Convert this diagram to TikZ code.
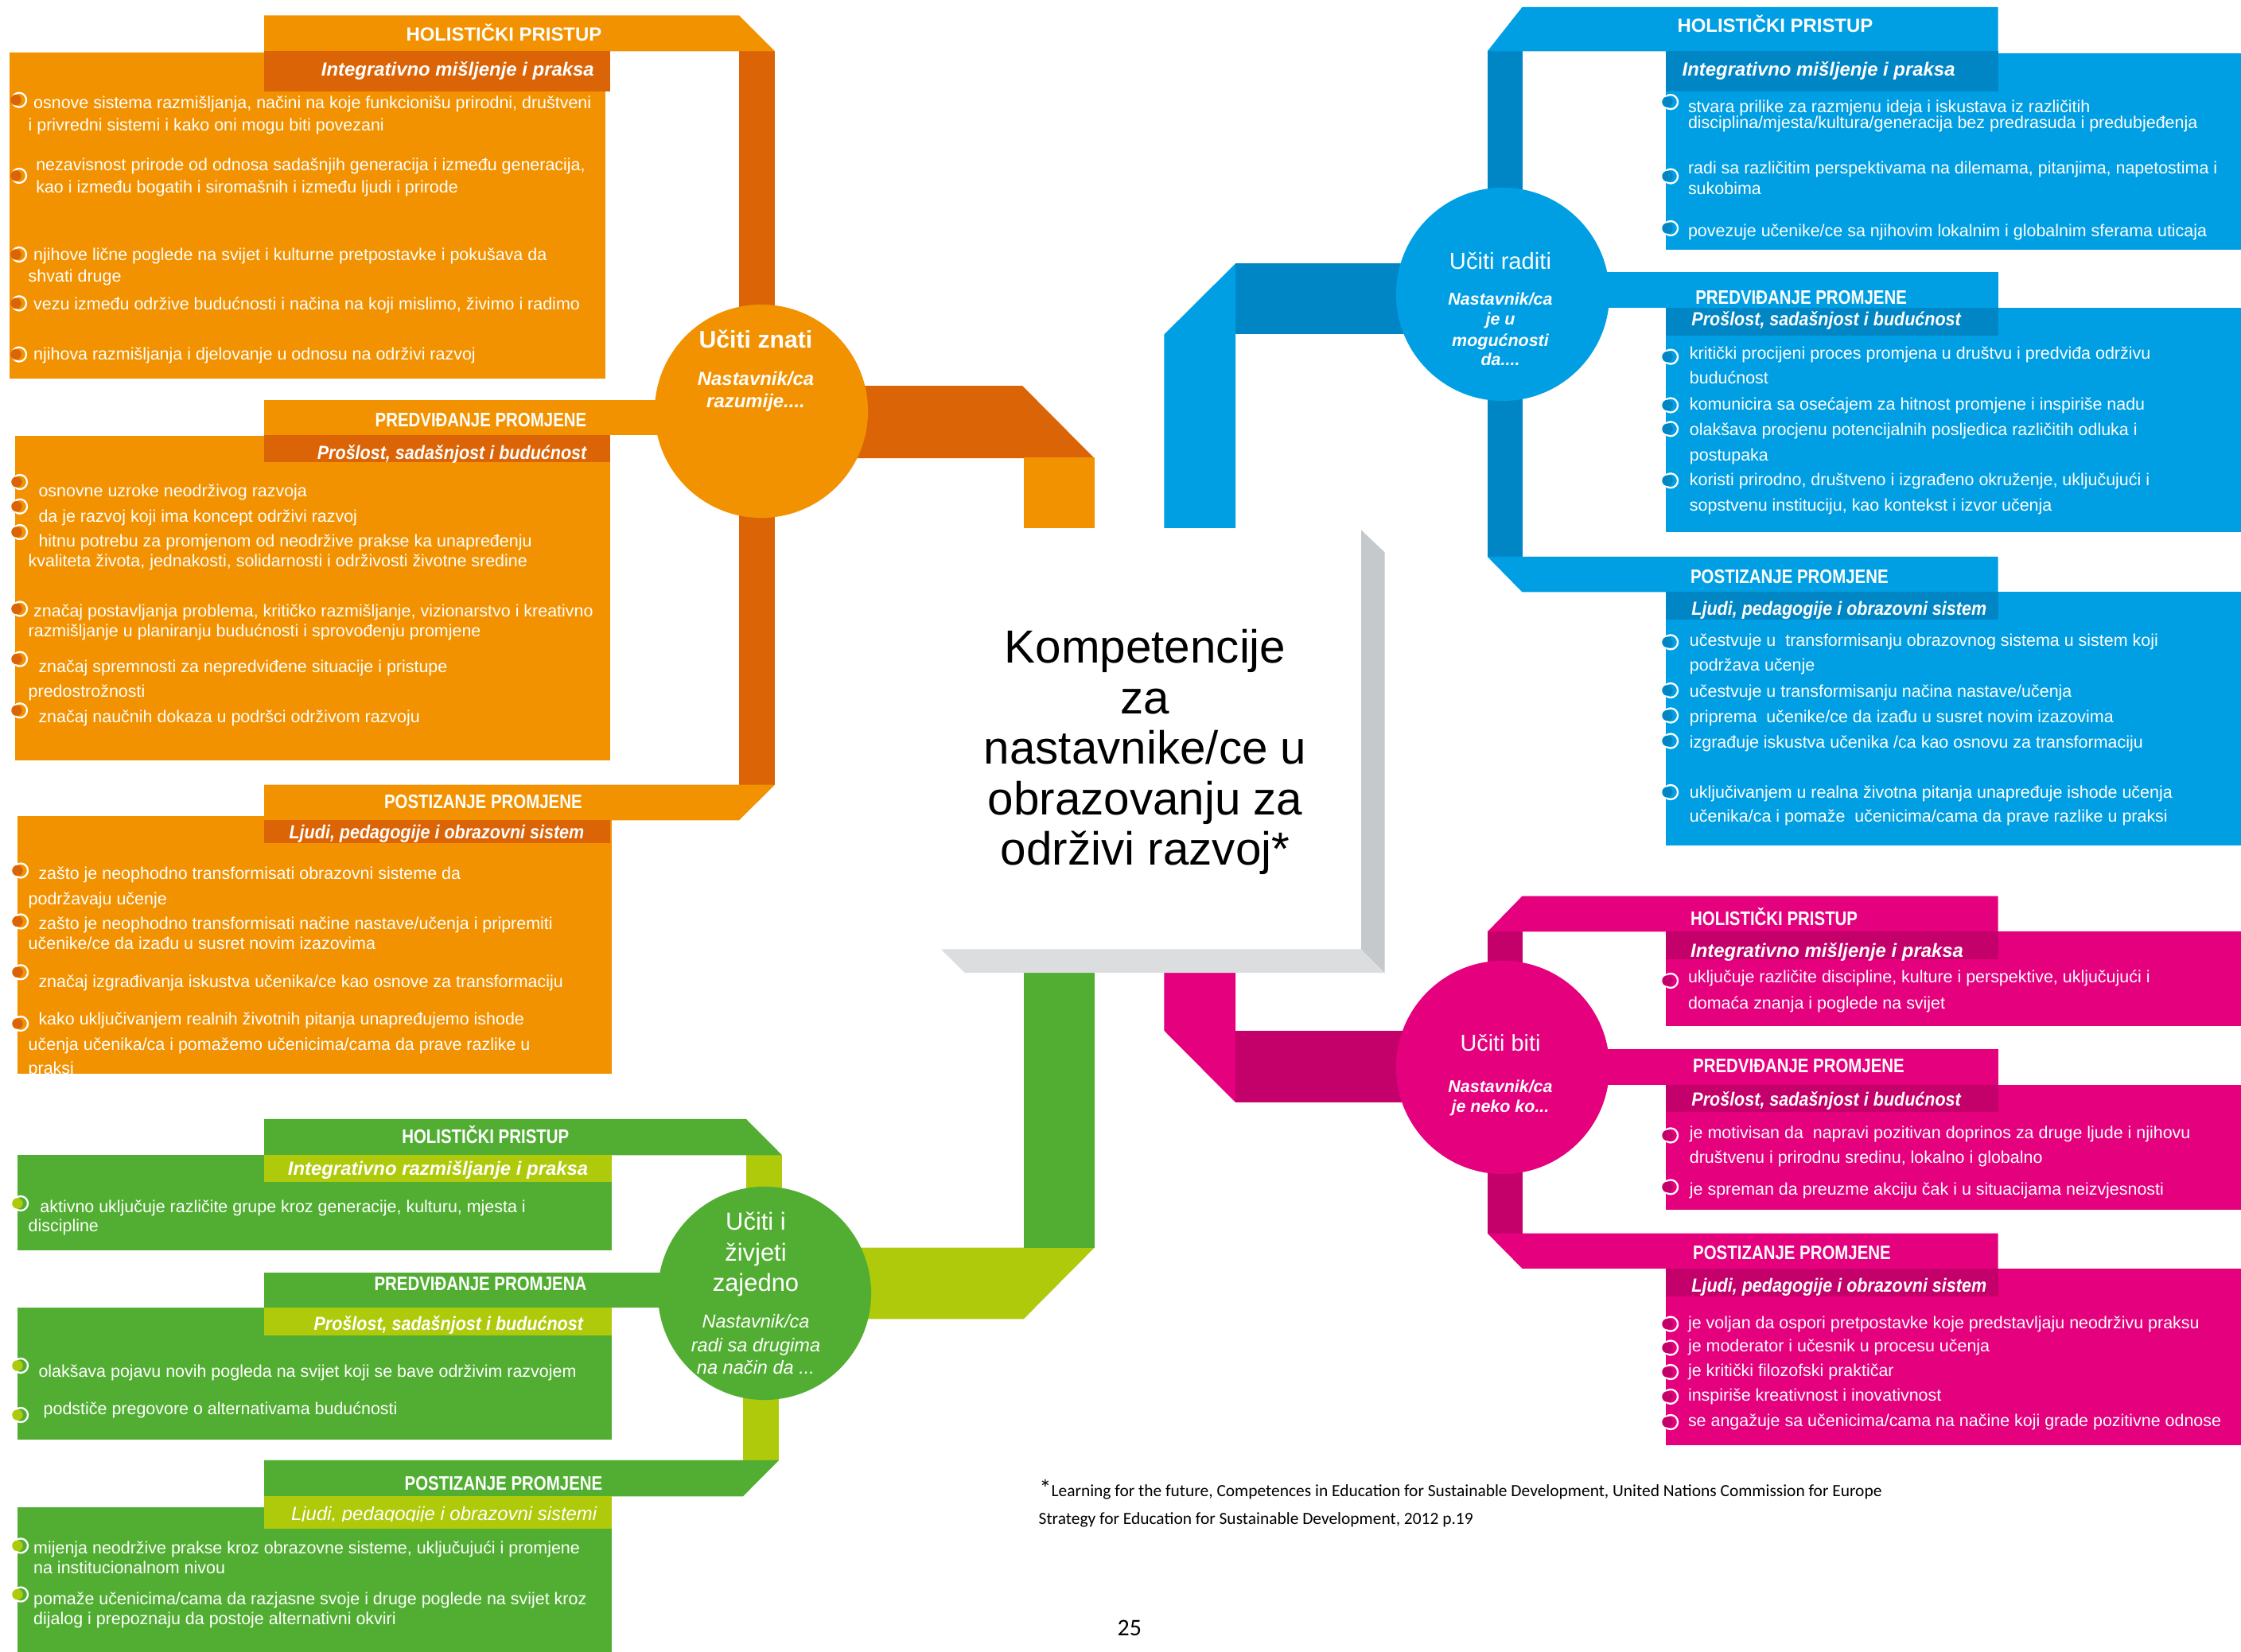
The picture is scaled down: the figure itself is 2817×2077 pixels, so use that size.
\documentclass[tikz,border=0pt]{standalone}
\usepackage{fontspec}
\setmainfont{Liberation Sans}
\newfontfamily\calib{Carlito}
\newfontfamily\nhead[FakeStretch=0.83]{Liberation Sans}
\newfontfamily\nsub[FakeStretch=0.9]{Liberation Sans}
\definecolor{cOr}{HTML}{F39200}
\definecolor{cOrD}{HTML}{DB6406}
\definecolor{cBl}{HTML}{009FE3}
\definecolor{cBlD}{HTML}{0086C5}
\definecolor{cPk}{HTML}{E5007D}
\definecolor{cPkD}{HTML}{C4006A}
\definecolor{cGr}{HTML}{52AE32}
\definecolor{cLm}{HTML}{AFCA0B}
\definecolor{cGyR}{HTML}{C6C9CC}
\definecolor{cGyB}{HTML}{DCDDDF}
\newcounter{nn}
\newcommand\myline[3]{\stepcounter{nn}\node[bt] (l\thenn) at (#1,#2) {#3};}
\newcommand\mybul[3]{\stepcounter{nn}\draw[white,line width=0.65pt] (#2+4,#3) circle (0.09cm);\node[dot,fill=#1] (b\thenn) at (#2,#3) {};}
\newcommand\hdr[4]{\stepcounter{nn}\node[#1] (h\thenn) at (#2,#3) {#4};}
\tikzset{
  bt/.style={font=\fontsize{6.1}{7}\selectfont,text=white,inner sep=0,anchor=base west},
  hb/.style={font=\bfseries\fontsize{6.8}{8}\selectfont,text=white,inner sep=0},
  hn/.style={font=\nhead\bfseries\fontsize{7}{8}\selectfont,text=white,inner sep=0},
  sb/.style={font=\bfseries\itshape\fontsize{6.8}{8}\selectfont,text=white,inner sep=0},
  sn/.style={font=\nsub\bfseries\itshape\fontsize{6.8}{8}\selectfont,text=white,inner sep=0},
  dot/.style={circle,draw=none,minimum size=0.135cm,inner sep=0},
  circ/.style={circle,minimum size=2.68cm,inner sep=0},
  ctit/.style={text=white,inner sep=0,anchor=base},
  title/.style={font=\fontsize{16.6}{18}\selectfont,text=black,inner sep=0,anchor=base},
}
\begin{document}
\begin{tikzpicture}[x=0.01cm,y=-0.01cm]
\useasboundingbox (0,0) rectangle (2817,2077);

% ---------------- ORANGE ----------------
\fill[cOrD] (929,64) rectangle (974,400);
\fill[cOrD] (929,630) rectangle (974,987);
\fill[cOrD] (1000,485.2) -- (1285.3,485.2) -- (1375.7,576.2) -- (1000,576.2) -- cycle;
\fill[cOr] (1286.6,575.5) rectangle (1375.7,664);
\fill[cOr] (12,66.5) rectangle (761,476);
\fill[cOr] (19,548) rectangle (767,956.4);
\fill[cOr] (21.7,1026) rectangle (768.5,1350);
\fill[cOr] (332,19.3) -- (929,19.3) -- (974,64.3) -- (332,64.3) -- cycle;
\fill[cOr] (332,502.6) rectangle (900,547.4);
\fill[cOr] (332,986.6) -- (974,986.6) -- (929,1031.4) -- (332,1031.4) -- cycle;
\fill[cOrD] (332,64.3) rectangle (767,115.4);
\fill[cOrD] (332,547.4) rectangle (767,581.3);
\fill[cOrD] (332,1031.4) rectangle (767,1060.3);
\node[circ,fill=cOr] (cz) at (957,517) {};

% ---------------- BLUE ----------------
\fill[cBlD] (1869.7,64) rectangle (1913.5,260);
\fill[cBlD] (1869.7,480) rectangle (1913.5,700.5);
\fill[cBlD] (1553.2,331.2) rectangle (1800,420.5);
\fill[cBl] (1463.4,664) -- (1463.4,420.5) -- (1553.2,331.2) -- (1553.2,664) -- cycle;
\fill[cBl] (2094,66.75) rectangle (2817,313.7);
\fill[cBl] (2094,387.2) rectangle (2817,668.8);
\fill[cBl] (2094,744.5) rectangle (2817,1063);
\fill[cBl] (1913.5,8.9) -- (2511.7,8.9) -- (2511.7,64.5) -- (1869.7,64.5) -- cycle;
\fill[cBl] (1950,341.8) rectangle (2511.7,387.2);
\fill[cBl] (1869.7,699.9) -- (2511.7,699.9) -- (2511.7,744.5) -- (1913.5,744.5) -- cycle;
\fill[cBlD] (2094,64.5) rectangle (2511.7,114.8);
\fill[cBlD] (2094,387.2) rectangle (2511.7,421.9);
\fill[cBlD] (2094,744.5) rectangle (2511.7,778.6);
\node[circ,fill=cBl] (cr) at (1889,370) {};

% ---------------- PINK ----------------
\fill[cPkD] (1869.7,1171) rectangle (1913.5,1240);
\fill[cPkD] (1869.7,1450) rectangle (1913.5,1551);
\fill[cPkD] (1553.2,1295.9) rectangle (1800,1386.2);
\fill[cPk] (1463.4,1223) -- (1553.2,1223) -- (1553.2,1386.2) -- (1463.4,1295.9) -- cycle;
\fill[cPk] (2094,1171.5) rectangle (2817,1290.5);
\fill[cPk] (2094,1364.4) rectangle (2817,1521.3);
\fill[cPk] (2094,1594.9) rectangle (2817,1817.3);
\fill[cPk] (1913.5,1126.6) -- (2511.7,1126.6) -- (2511.7,1171.5) -- (1869.7,1171.5) -- cycle;
\fill[cPk] (1950,1318.8) rectangle (2511.7,1364.4);
\fill[cPk] (1869.7,1550.6) -- (2511.7,1550.6) -- (2511.7,1594.9) -- (1913.5,1594.9) -- cycle;
\fill[cPkD] (2094,1171.5) rectangle (2511.7,1206.4);
\fill[cPkD] (2094,1364.4) rectangle (2511.7,1397.6);
\fill[cPkD] (2094,1594.9) rectangle (2511.7,1629.7);
\node[circ,fill=cPk] (cb) at (1889,1342) {};

% ---------------- GREEN ----------------
\fill[cLm] (938,1452) rectangle (983,1520);
\fill[cLm] (934,1740) rectangle (979,1836.5);
\fill[cLm] (1000,1568.7) -- (1375.7,1568.7) -- (1286.6,1658.5) -- (1000,1658.5) -- cycle;
\fill[cGr] (1286.6,1223.2) rectangle (1375.7,1569);
\fill[cGr] (21.7,1452.3) rectangle (768.5,1572);
\fill[cGr] (21.7,1644.4) rectangle (768.5,1810.3);
\fill[cGr] (21.7,1894.6) rectangle (768.5,2077);
\fill[cGr] (332,1407) -- (938,1407) -- (983,1452.3) -- (332,1452.3) -- cycle;
\fill[cGr] (332,1599.6) rectangle (900,1644.4);
\fill[cGr] (332,1836) -- (979,1836) -- (934,1881.3) -- (332,1881.3) -- cycle;
\fill[cLm] (332,1452.3) rectangle (768.5,1486.5);
\fill[cLm] (332,1644.4) rectangle (768.5,1679.4);
\fill[cLm] (332,1881.3) rectangle (768.5,1922);
\node[circ,fill=cGr] (cz2) at (961,1626) {};

% ---------------- CENTER BOX ----------------
\fill[cGyR] (1711,666.3) -- (1740.5,694.3) -- (1740.5,1223.2) -- (1711,1193.5) -- cycle;
\fill[cGyB] (1182.8,1193.5) -- (1711,1193.5) -- (1740.5,1223.2) -- (1213,1223.2) -- cycle;
\node[title] (t1) at (1439.6,834) {Kompetencije};
\node[title] (t2) at (1439.6,897.5) {za};
\node[title] (t3) at (1439.6,961) {nastavnike/ce u};
\node[title] (t4) at (1439.6,1024.5) {obrazovanju za};
\node[title] (t5) at (1439.6,1088) {održivi razvoj*};

% ---------------- CIRCLE TEXTS ----------------
\node[ctit,font=\bfseries\fontsize{8.6}{10}\selectfont] (z1) at (950,437.8) {Učiti znati};
\node[ctit,font=\bfseries\itshape\fontsize{6.8}{8}\selectfont] (z2) at (950,485) {Nastavnik/ca};
\node[ctit,font=\bfseries\itshape\fontsize{6.8}{8}\selectfont] (z3) at (950,512.5) {razumije....};

\node[ctit,font=\fontsize{8.3}{10}\selectfont] (r1) at (1886,339) {Učiti raditi};
\node[ctit,font=\bfseries\itshape\fontsize{6.1}{7}\selectfont] (r2) at (1886,384) {Nastavnik/ca};
\node[ctit,font=\bfseries\itshape\fontsize{6.1}{7}\selectfont] (r3) at (1886,408.7) {je u};
\node[ctit,font=\bfseries\itshape\fontsize{6.1}{7}\selectfont] (r4) at (1886,435.4) {mogućnosti};
\node[ctit,font=\bfseries\itshape\fontsize{6.1}{7}\selectfont] (r5) at (1886,460) {da....};

\node[ctit,font=\fontsize{8.2}{10}\selectfont] (p1) at (1886,1321.4) {Učiti biti};
\node[ctit,font=\bfseries\itshape\fontsize{6.1}{7}\selectfont] (p2) at (1886,1373.7) {Nastavnik/ca};
\node[ctit,font=\bfseries\itshape\fontsize{6.1}{7}\selectfont] (p3) at (1886,1398.6) {je neko ko...};

\node[ctit,font=\fontsize{8.8}{10}\selectfont] (g1) at (950,1547) {Učiti i};
\node[ctit,font=\fontsize{8.8}{10}\selectfont] (g2) at (950,1585.4) {živjeti};
\node[ctit,font=\fontsize{8.8}{10}\selectfont] (g3) at (950,1623.2) {zajedno};
\node[ctit,font=\itshape\fontsize{6.7}{8}\selectfont] (g4) at (950,1669.7) {Nastavnik/ca};
\node[ctit,font=\itshape\fontsize{6.7}{8}\selectfont] (g5) at (950,1699.4) {radi sa drugima};
\node[ctit,font=\itshape\fontsize{6.7}{8}\selectfont] (g6) at (950,1728) {na način da ...};

% ---------------- HEADERS ----------------
\hdr{hb,anchor=base east}{757}{51.1}{HOLISTIČKI PRISTUP}
\hdr{sb,anchor=base east}{747.5}{95.6}{Integrativno mišljenje i praksa}
\hdr{hn,anchor=base east}{738}{536.5}{PREDVIĐANJE PROMJENE}
\hdr{sn,anchor=base east}{738}{577.8}{Prošlost, sadašnjost i budućnost}
\hdr{hn,anchor=base east}{732.4}{1016.5}{POSTIZANJE PROMJENE}
\hdr{sn,anchor=base east}{735}{1054.5}{Ljudi, pedagogije i obrazovni sistem}

\hdr{hn,anchor=base east}{716}{1437.3}{HOLISTIČKI PRISTUP}
\hdr{sb,anchor=base east}{740}{1477.5}{Integrativno razmišljanje i praksa}
\hdr{hn,anchor=base east}{738}{1622.5}{PREDVIĐANJE PROMJENA}
\hdr{sn,anchor=base east}{733.7}{1672.5}{Prošlost, sadašnjost i budućnost}
\hdr{hn,anchor=base east}{758}{1873.5}{POSTIZANJE PROMJENE}
\begin{scope}
\clip (300,1880) rectangle (800,1912.5);
\hdr{sb,font=\itshape\fontsize{6.8}{8}\selectfont,anchor=base east}{751}{1912}{Ljudi, pedagogije i obrazovni sistemi}
\end{scope}

\hdr{hb,anchor=base west}{2107.8}{40.5}{HOLISTIČKI PRISTUP}
\hdr{sb,anchor=base west}{2114}{95.5}{Integrativno mišljenje i praksa}
\hdr{hn,anchor=base west}{2130.6}{382.3}{PREDVIĐANJE PROMJENE}
\hdr{sn,anchor=base west}{2125.7}{409.2}{Prošlost, sadašnjost i budućnost}
\hdr{hn,anchor=base west}{2124.4}{733.2}{POSTIZANJE PROMJENE}
\hdr{sn,anchor=base west}{2125.7}{773.2}{Ljudi, pedagogije i obrazovni sistem}

\hdr{hn,anchor=base west}{2124.4}{1163.4}{HOLISTIČKI PRISTUP}
\hdr{sb,anchor=base west}{2124.4}{1203.6}{Integrativno mišljenje i praksa}
\hdr{hn,anchor=base west}{2127.5}{1348.5}{PREDVIĐANJE PROMJENE}
\hdr{sn,anchor=base west}{2125.7}{1390.1}{Prošlost, sadašnjost i budućnost}
\hdr{hn,anchor=base west}{2127.5}{1583.5}{POSTIZANJE PROMJENE}
\hdr{sn,anchor=base west}{2125.7}{1624.5}{Ljudi, pedagogije i obrazovni sistem}

% ---------------- BULLETS ----------------
\foreach \y in {125.7,221,320,381.4,445.6}{\mybul{cOrD}{20}{\y}}
\foreach \y in {606,636.7,669,765.5,828.6,893.3}{\mybul{cOrD}{21}{\y}}
\foreach \y in {1094.5,1158.5,1222.3,1287}{\mybul{cOrD}{22}{\y}}
\foreach \y in {1513,1717,1779,1943.4,2004.6}{\mybul{cLm}{22}{\y}}
\foreach \y in {128.2,221.6,287,448.6,509.5,539.3,604.3,807.4,868,899.5,931.6,996}{\mybul{cBlD}{2096}{\y}}
\foreach \y in {1233,1427.5,1492.4,1664.6,1694.5,1725,1755.9,1788}{\mybul{cPkD}{2096}{\y}}

% ---------------- BODY TEXT: ORANGE ----------------
\myline{41.5}{136.8}{osnove sistema razmišljanja, načini na koje funkcionišu prirodni, društveni}
\myline{35}{164.5}{i privredni sistemi i kako oni mogu biti povezani}
\myline{44.6}{214.3}{nezavisnost prirode od odnosa sadašnjih generacija i između generacija,}
\myline{44.6}{242.2}{kao i između bogatih i siromašnih i između ljudi i prirode}
\myline{41.5}{327.4}{njihove lične poglede na svijet i kulturne pretpostavke i pokušava da}
\myline{35}{354.5}{shvati druge}
\myline{41.5}{389.5}{vezu između održive budućnosti i načina na koji mislimo, živimo i radimo}
\myline{41.5}{452.7}{njihova razmišljanja i djelovanje u odnosu na održivi razvoj}

\myline{47.8}{624.3}{osnovne uzroke neodrživog razvoja}
\myline{47.8}{656.5}{da je razvoj koji ima koncept održivi razvoj}
\myline{47.8}{688}{hitnu potrebu za promjenom od neodržive prakse ka unapređenju}
\myline{35}{712.9}{kvaliteta života, jednakosti, solidarnosti i održivosti životne sredine}
\myline{41.5}{775.3}{značaj postavljanja problema, kritičko razmišljanje, vizionarstvo i kreativno}
\myline{35}{800.2}{razmišljanje u planiranju budućnosti i sprovođenju promjene}
\myline{47.8}{845.1}{značaj spremnosti za nepredviđene situacije i pristupe}
\myline{35}{876.5}{predostrožnosti}
\myline{47.8}{908.8}{značaj naučnih dokaza u podršci održivom razvoju}

\myline{47.8}{1105.5}{zašto je neophodno transformisati obrazovni sisteme da}
\myline{35}{1137.1}{podržavaju učenje}
\myline{47.8}{1168.5}{zašto je neophodno transformisati načine nastave/učenja i pripremiti}
\myline{35}{1193.9}{učenike/ce da izađu u susret novim izazovima}
\myline{47.8}{1241.1}{značaj izgrađivanja iskustva učenika/ce kao osnove za transformaciju}
\myline{47.8}{1288.2}{kako uključivanjem realnih životnih pitanja unapređujemo ishode}
\myline{35}{1320.1}{učenja učenika/ca i pomažemo učenicima/cama da prave razlike u}
\begin{scope}
\clip (0,1300) rectangle (800,1350);
\myline{35}{1351}{praksi}
\end{scope}

% ---------------- BODY TEXT: GREEN ----------------
\myline{49.7}{1524.3}{aktivno uključuje različite grupe kroz generacije, kulturu, mjesta i}
\myline{35}{1548.7}{discipline}
\myline{47.8}{1731.5}{olakšava pojavu novih pogleda na svijet koji se bave održivim razvojem}
\myline{54}{1778.1}{podstiče pregovore o alternativama budućnosti}
\myline{41.5}{1953.3}{mijenja neodržive prakse kroz obrazovne sisteme, uključujući i promjene}
\myline{41.5}{1978.5}{na institucionalnom nivou}
\myline{41.5}{2017.5}{pomaže učenicima/cama da razjasne svoje i druge poglede na svijet kroz}
\myline{41.5}{2042}{dijalog i prepoznaju da postoje alternativni okviri}

% ---------------- BODY TEXT: BLUE ----------------
\myline{2121.3}{141.2}{stvara prilike za razmjenu ideja i iskustava iz različitih}
\myline{2121.3}{161.3}{disciplina/mjesta/kultura/generacija bez predrasuda i predubjeđenja}
\myline{2121.3}{218.2}{radi sa različitim perspektivama na dilemama, pitanjima, napetostima i}
\myline{2121.3}{244.9}{sukobima}
\myline{2121.3}{297.9}{povezuje učenike/ce sa njihovim lokalnim i globalnim sferama uticaja}

\myline{2123.2}{451.8}{kritički procijeni proces promjena u društvu i predviđa održivu}
\myline{2123.2}{483}{budućnost}
\myline{2123.2}{515.9}{komunicira sa osećajem za hitnost promjene i inspiriše nadu}
\myline{2123.2}{547.5}{olakšava procjenu potencijalnih posljedica različitih odluka i}
\myline{2123.2}{579.5}{postupaka}
\myline{2123.2}{610.7}{koristi prirodno, društveno i izgrađeno okruženje, uključujući i}
\myline{2123.2}{642.7}{sopstvenu instituciju, kao kontekst i izvor učenja}

\myline{2123.2}{812.9}{učestvuje u~ transformisanju obrazovnog sistema u sistem koji}
\myline{2123.2}{843.7}{podržava učenje}
\myline{2123.2}{876.8}{učestvuje u transformisanju načina nastave/učenja}
\myline{2123.2}{908.3}{priprema~ učenike/ce da izađu u susret novim izazovima}
\myline{2123.2}{940.4}{izgrađuje iskustva učenika /ca kao osnovu za transformaciju}
\myline{2123.2}{1003.3}{uključivanjem u realna životna pitanja unapređuje ishode učenja}
\myline{2123.2}{1034}{učenika/ca i pomaže~ učenicima/cama da prave razlike u praksi}

% ---------------- BODY TEXT: PINK ----------------
\myline{2121.3}{1235.9}{uključuje različite discipline, kulture i perspektive, uključujući i}
\myline{2121.3}{1268.5}{domaća znanja i poglede na svijet}
\myline{2123.2}{1431.4}{je motivisan da~ napravi pozitivan doprinos za druge ljude i njihovu}
\myline{2123.2}{1463}{društvenu i prirodnu sredinu, lokalno i globalno}
\myline{2123.2}{1502.9}{je spreman da preuzme akciju čak i u situacijama neizvjesnosti}
\myline{2121.3}{1670.1}{je voljan da ospori pretpostavke koje predstavljaju neodrživu praksu}
\myline{2121.3}{1700}{je moderator i učesnik u procesu učenja}
\myline{2121.3}{1730.5}{je kritički filozofski praktičar}
\myline{2121.3}{1761.4}{inspiriše kreativnost i inovativnost}
\myline{2121.3}{1793.5}{se angažuje sa učenicima/cama na načine koji grade pozitivne odnose}

% ---------------- FOOTNOTE ----------------
\node[anchor=base west,inner sep=0] (fn1) at (1306,1881) {\calib\fontsize{8.5}{9}\selectfont *\fontsize{6.1}{7}\selectfont Learning for the future, Competences in Education for Sustainable Development, United Nations Commission for Europe};
\node[anchor=base west,inner sep=0] (fn2) at (1305,1916) {\calib\fontsize{6.1}{7}\selectfont Strategy for Education for Sustainable Development, 2012 p.19};
\node[anchor=base west,inner sep=0] (pg) at (1404,2056) {\calib\fontsize{8.5}{10}\selectfont 25};
\end{tikzpicture}
\end{document}
